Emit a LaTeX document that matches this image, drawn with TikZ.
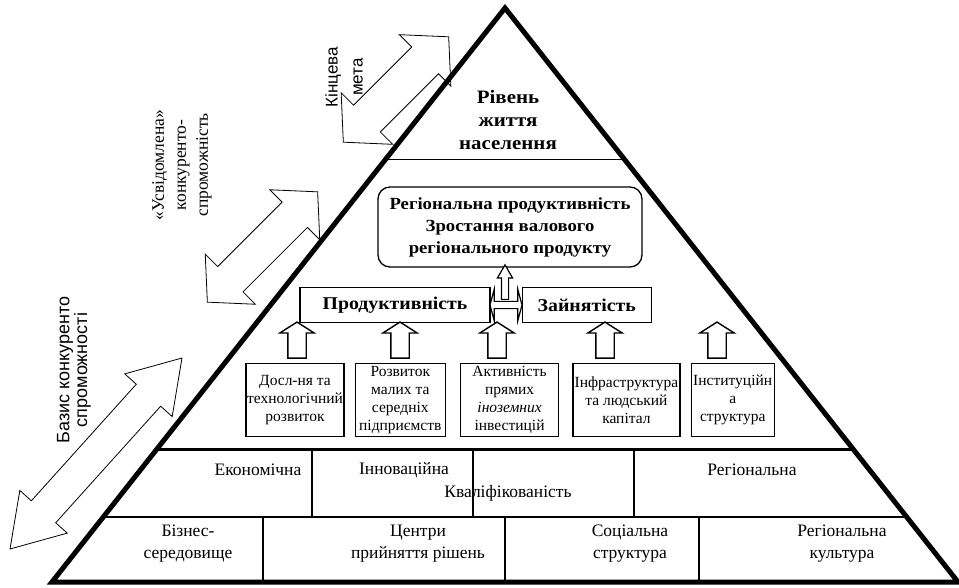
\documentclass[tikz,border=0pt]{standalone}
\usepackage{fontspec}
\setmainfont{Liberation Serif}
\newfontfamily\sansua{Liberation Sans}
\newfontfamily\headfont{Liberation Serif}[FakeStretch=1.1]
\usetikzlibrary{shapes.arrows,positioning}

\tikzset{
  txt/.style={font=\fontsize{17.5}{22}\selectfont, align=center, inner sep=0pt},
  headtxt/.style={font=\headfont\bfseries\fontsize{17}{22}\selectfont, align=center, inner sep=0pt},
  factor/.style={draw, line width=1.3pt, minimum height=73pt, inner sep=0pt, align=center,
    font=\fontsize{15.5}{18}\selectfont},
  uparrow/.style={single arrow, draw, line width=1.4pt, fill=white, rotate=90,
    minimum height=36pt, inner xsep=0pt, inner ysep=8.5pt,
    single arrow head extend=8pt, single arrow tip angle=115},
  bigarrow/.style={double arrow, draw, line width=0.8pt, inner xsep=0pt}
}

\begin{document}
\begin{tikzpicture}[x=1pt,y=-1pt]
  \useasboundingbox (0,0) rectangle (959,588);

  % Big arrows on the left
  \node[bigarrow, rotate=45, minimum height=149pt, inner ysep=18.5pt,
    double arrow head extend=17.5pt, double arrow tip angle=95] (goal) at (396,89.5) {};
  \node[bigarrow, rotate=45, minimum height=156pt, inner ysep=17.5pt,
    double arrow head extend=17.5pt, double arrow tip angle=95] (aware) at (262.5,247) {};
  \node[bigarrow, rotate=48, minimum height=257pt, inner ysep=16pt,
    double arrow head extend=15.5pt, double arrow tip angle=65] (basis) at (96,453.5) {};

  % Texts by the arrows
  \node[rotate=90, align=center, inner sep=0pt, font=\sansua\fontsize{17}{25}\selectfont]
    (goaltxt) at (344,77) {Кінцева\\мета};
  \node[rotate=90, align=center, inner sep=0pt, font=\fontsize{17.5}{22}\selectfont]
    (awaretxt) at (182,165) {«Усвідомлена»\\конкуренто-\\спроможність};
  \node[rotate=90, align=center, inner sep=0pt, font=\sansua\fontsize{18}{16}\selectfont]
    (basistxt) at (74,370) {Базис конкуренто\\спроможності};

  % Pyramid
  \draw[line width=5pt] (505,8) -- (958,582) -- (52,582) -- cycle;
  % Level lines
  \draw[line width=1pt] (385,160) -- (625,160);
  \draw[line width=3pt] (157,449) -- (853,449);
  \draw[line width=2pt] (103,517) -- (907,517);
  % Dividers, upper row
  \draw[line width=1.2pt] (312,449) -- (312,517);
  \draw[line width=1.2pt] (473,449) -- (473,517);
  \draw[line width=1.2pt] (634,449) -- (634,517);
  % Dividers, lower row
  \draw[line width=1.2pt] (263,517) -- (263,582);
  \draw[line width=1.2pt] (505,517) -- (505,582);
  \draw[line width=1.2pt] (699,517) -- (699,582);

  % Top of the pyramid
  \node[headtxt, font=\headfont\bfseries\fontsize{19}{23}\selectfont]
    (life) at (508,120) {Рівень\\життя\\населення};

  % Regional product
  \node[draw, rounded corners=12pt, line width=1.3pt, minimum width=264pt,
    minimum height=80pt, headtxt] (regprod) at (510,227)
    {Регіональна продуктивність\\Зростання валового\\регіонального продукту};

  % Productivity and employment
  \node[draw, line width=1.2pt, minimum width=190pt, minimum height=35pt, headtxt,
    font=\headfont\bfseries\fontsize{18}{22}\selectfont] (productivity) at (395,305) {Продуктивність};
  \node[draw, line width=1.2pt, minimum width=129pt, minimum height=35pt, headtxt,
    font=\headfont\bfseries\fontsize{18}{22}\selectfont, right=31pt of productivity] (employment) {Зайнятість};

  % Arrows between them and up to the product
  \node[double arrow, draw, line width=1.2pt, fill=white, minimum height=32pt,
    inner xsep=0pt, inner ysep=3pt, double arrow head extend=12pt,
    double arrow tip angle=150] (link) at (506,305) {};
  \node[single arrow, draw, line width=1.2pt, fill=white, rotate=90, minimum height=34.5pt,
    inner xsep=0pt, inner ysep=3pt, single arrow head extend=4pt,
    single arrow tip angle=60] (uplink) at (505,285.25) {};

  % Factors
  \node[factor, minimum width=98pt] (research) at (295,400) {Досл-ня та\\технологічний\\розвиток};
  \node[factor, minimum width=90pt, right=10pt of research] (smallbiz) {Розвиток\\малих та\\середніх\\підприємств};
  \node[factor, minimum width=98pt, right=14pt of smallbiz] (fdi) {Активність\\прямих\\\textit{іноземних}\\інвестицій};
  \node[factor, minimum width=107pt, right=13pt of fdi] (infra) {Інфраструктура\\та людський\\капітал};
  \node[factor, minimum width=83pt, right=10pt of infra] (institut) {Інституційн\\а\\структура};

  % Arrows from the factors
  \node[uparrow] (up1) at (297,343) {};
  \node[uparrow] (up2) at (400,343) {};
  \node[uparrow] (up3) at (497,343) {};
  \node[uparrow] (up4) at (605,343) {};
  \node[uparrow] (up5) at (717,343) {};

  % Upper row
  \node[txt] (econ) at (258,470) {Економічна};
  \node[txt] (innov) at (404,470) {Інноваційна};
  \node[txt] (qualif) at (508,493) {Кваліфікованість};
  \node[txt] (regional) at (752,470) {Регіональна};
  % Lower row
  \node[txt] (business) at (188,544) {Бізнес-\\середовище};
  \node[txt] (centres) at (418,544) {Центри\\прийняття рішень};
  \node[txt] (social) at (630,544) {Соціальна\\структура};
  \node[txt] (culture) at (842,544) {Регіональна\\культура};
\end{tikzpicture}
\end{document}
